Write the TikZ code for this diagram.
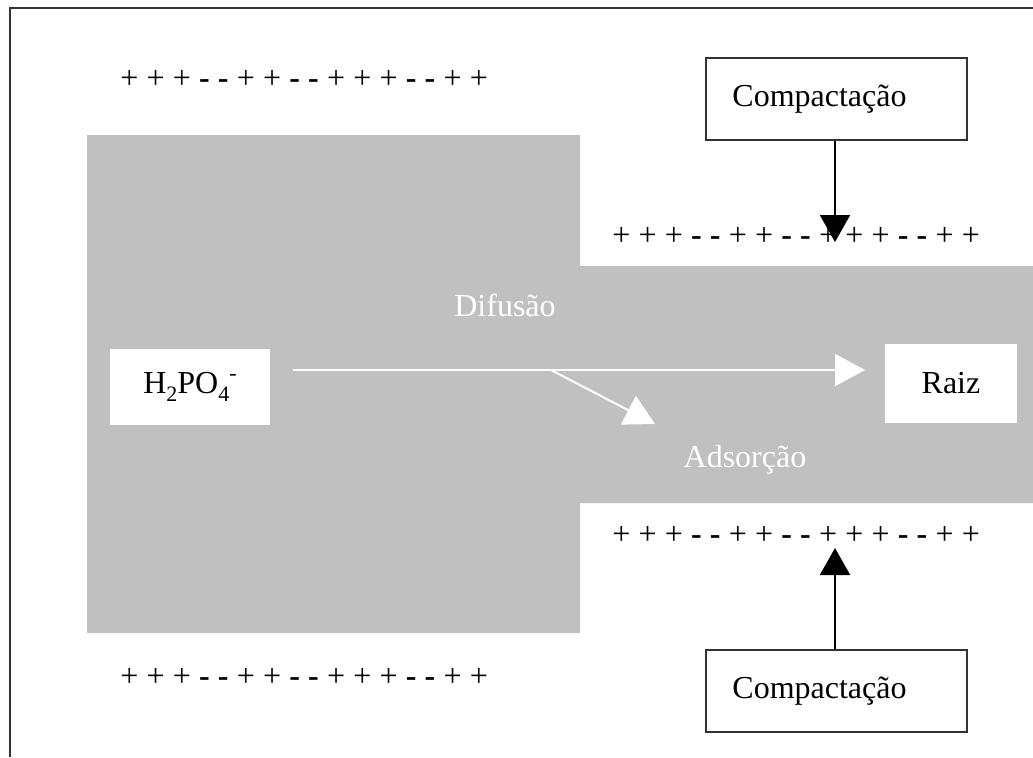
\documentclass[tikz,border=0pt]{standalone}
\usepackage{fontspec}
\setmainfont{Liberation Serif}
\usetikzlibrary{arrows.meta}
\definecolor{soil}{HTML}{C0C0C0}
\definecolor{framegray}{HTML}{333333}
% one row of surface charges
\newcommand\cgap{\hspace{4.1pt}}
\newcommand\cpos{+}
\newcommand\cneg{\textbf{-}}
\newcommand\chargerow{\cpos\cgap\cpos\cgap\cpos\cgap\cneg\cgap\cneg\cgap
  \cpos\cgap\cpos\cgap\cneg\cgap\cneg\cgap
  \cpos\cgap\cpos\cgap\cpos\cgap\cneg\cgap\cneg\cgap\cpos\cgap\cpos}
% chemical indices, set a little lower and larger than \textsubscript
\newcommand\chemsub[1]{\raisebox{-0.5ex}{\fontsize{11}{12}\selectfont #1}}
\newcommand\chemsup[1]{\raisebox{0.9ex}{\fontsize{11}{12}\selectfont #1}}
\tikzset{
  lbl/.style={font=\fontsize{16}{19}\selectfont, inner sep=0pt},
  whitebox/.style={lbl, fill=white, draw=none},
  compbox/.style={draw=framegray, line width=1pt, fill=white,
    minimum width=130.5pt, minimum height=41pt, inner sep=0pt},
  charges/.style={lbl, anchor=west},
  flow/.style={draw=white, line width=1pt, -{Triangle[length=15pt,width=16pt]}},
  press/.style={draw=black, line width=1pt, -{Triangle[length=13.5pt,width=15pt]}},
}
\begin{document}
\begin{tikzpicture}[x=0.5pt, y=-0.5pt]
  \useasboundingbox (0,0) rectangle (1033,757);
  % frame (top and left edges)
  \draw[framegray, line width=1pt] (10,757) -- (10,8) -- (1033,8);
  % soil region
  \fill[soil] (87,135) -- (580,135) -- (580,266) -- (1033,266) -- (1033,503)
    -- (580,503) -- (580,633) -- (87,633) -- cycle;
  % charge rows
  \node[charges] (cTL) at (120,79)  {\chargerow};
  \node[charges] (cBL) at (120,677) {\chargerow};
  \node[charges] (cTR) at (612,236) {\chargerow};
  \node[charges] (cBR) at (612,535) {\chargerow};
  % ion and root
  \node[whitebox, minimum width=80pt, minimum height=38pt] (ion) at (190,387)
    {H\chemsub{2}PO\chemsub{4}\chemsup{-}};
  \node[whitebox, minimum width=66pt, minimum height=39.5pt] (raiz) at (951,383.5) {Raiz};
  % labels on the soil
  \node[lbl, text=white] (dif) at (505,305) {Difusão};
  \node[lbl, text=white] (ads) at (745,460) {Adsorção};
  % compaction boxes
  \node[compbox] (compT) at (836.5,99) {};
  \node[lbl, anchor=west] (compTt) at ([xshift=13.5pt]compT.west) {Compactação};
  \node[compbox] (compB) at (836.5,691) {};
  \node[lbl, anchor=west] (compBt) at ([xshift=13.5pt]compB.west) {Compactação};
  % flows
  \coordinate (fs) at (293,370);
  \coordinate (fe) at (865,370);
  \coordinate (fb) at (551,370);
  \coordinate (ae) at (655,424);
  \draw[flow] (fs) -- (fe);
  \draw[flow] (fb) -- (ae);
  % compaction arrows
  \coordinate (pT) at (835,242);
  \coordinate (pB) at (835,548);
  \draw[press] (compT.south -| pT) -- (pT);
  \draw[press] (compB.north -| pB) -- (pB);
\end{tikzpicture}
\end{document}
